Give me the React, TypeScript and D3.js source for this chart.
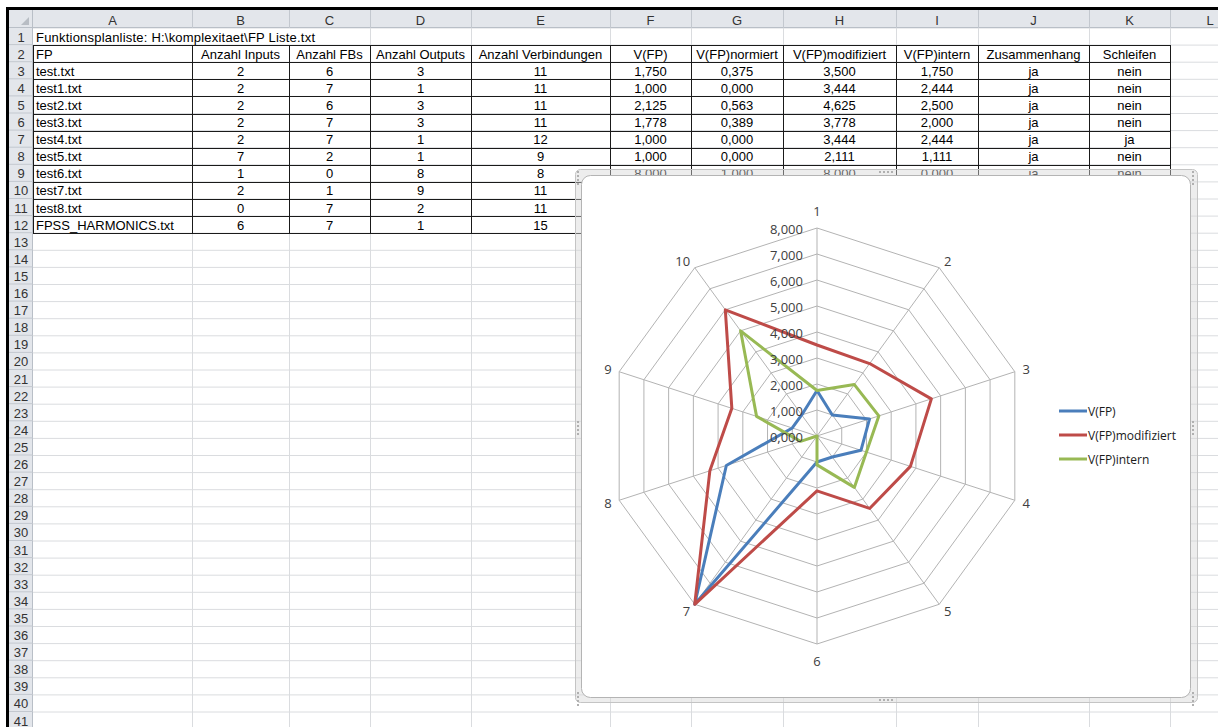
import React from 'react';
import * as d3 from 'd3';

// --- sheet data (rows 3..12) ---
const fileNames = ['test.txt', 'test1.txt', 'test2.txt', 'test3.txt', 'test4.txt', 'test5.txt', 'test6.txt', 'test7.txt', 'test8.txt', 'FPSS_HARMONICS.txt'];
const inputs = [2, 2, 2, 2, 2, 7, 1, 2, 0, 6];
const fbs = [6, 7, 6, 7, 7, 2, 0, 1, 7, 7];
const outputs = [3, 1, 3, 3, 1, 1, 8, 9, 2, 1];
const connections = [11, 11, 11, 11, 12, 9, 8, 11, 11, 15];
const vfp = [1.75, 1.0, 2.125, 1.778, 1.0, 1.0, 8.0, 3.667, 1.0, 1.0];
const vfpNorm = [0.375, 0.0, 0.563, 0.389, 0.0, 0.0, 1.0, 1.0, 0.0, 0.0];
const vfpMod = [3.5, 3.444, 4.625, 3.778, 3.444, 2.111, 8.0, 4.333, 3.444, 6.0];
const vfpIntern = [1.75, 2.444, 2.5, 2.0, 2.444, 1.111, 0.0, 0.667, 2.444, 5.0];
const zusammenhang = ['ja', 'ja', 'ja', 'ja', 'ja', 'ja', 'ja', 'ja', 'ja', 'ja'];
const schleifen = ['nein', 'nein', 'nein', 'nein', 'ja', 'nein', 'nein', 'nein', 'nein', 'nein'];

const headers = ['FP', 'Anzahl Inputs', 'Anzahl FBs', 'Anzahl Outputs', 'Anzahl Verbindungen', 'V(FP)', 'V(FP)normiert', 'V(FP)modifiziert', 'V(FP)intern', 'Zusammenhang', 'Schleifen'];
const title = 'Funktionsplanliste: H:\\komplexitaet\\FP Liste.txt';

// --- chart data ---
const categories = ['1', '2', '3', '4', '5', '6', '7', '8', '9', '10'];
const seriesNames = ['V(FP)', 'V(FP)modifiziert', 'V(FP)intern'];
const seriesValues = [vfp, vfpMod, vfpIntern];
const seriesColors = ['#4a7ebb', '#be4b48', '#98b954'];

// --- layout ---
const W = 1218, H = 727;
const colLetters = ['A', 'B', 'C', 'D', 'E', 'F', 'G', 'H', 'I', 'J', 'K', 'L'];
const colEdges = [33, 192, 289, 370, 471, 610, 691, 783, 896, 978, 1089, 1170, 1250];
const rowHeaderX = 9;
const headerTop = 10;
const rowTop0 = 28;
const rowH = 17.1;
const nRows = 41;

const de = d3.formatLocale({ decimal: ',', thousands: '.', grouping: [3], currency: ['', '€'] });
const f3 = de.format('.3f');

const sheetFont = "'Liberation Sans', Arial, sans-serif";
const chartFont = "'Open Sans', 'Noto Sans', sans-serif";

function Sheet() {
  const rowTop = (k: number) => rowTop0 + (k - 1) * rowH;
  const gridColor = '#dadcdf';
  const els: React.ReactNode[] = [];

  // horizontal gridlines
  for (let k = 1; k <= nRows + 1; k++) {
    els.push(<line key={'h' + k} x1={colEdges[0]} x2={W} y1={rowTop(k)} y2={rowTop(k)} stroke={gridColor} />);
  }
  // vertical gridlines (row 1 title overflows A..C)
  colEdges.slice(1).forEach((x, i) => {
    const y1 = i < 2 ? rowTop(2) : rowTop(1);
    els.push(<line key={'v' + i} x1={x + 0.5} x2={x + 0.5} y1={y1} y2={H} stroke={gridColor} />);
  });

  // headers
  els.push(<rect key="hdr" x={rowHeaderX} y={headerTop} width={W - rowHeaderX} height={rowTop0 - headerTop} fill="#e3e6eb" />);
  els.push(<rect key="rhdr" x={rowHeaderX} y={headerTop} width={colEdges[0] - rowHeaderX} height={H - headerTop} fill="#e3e6eb" />);
  els.push(<line key="hdrb" x1={rowHeaderX} x2={W} y1={rowTop0 - 0.5} y2={rowTop0 - 0.5} stroke="#b9bfc7" />);
  els.push(<line key="rhdrb" x1={colEdges[0] - 0.5} x2={colEdges[0] - 0.5} y1={headerTop} y2={H} stroke="#b9bfc7" />);
  els.push(<polygon key="corner" points="29,17 29,25 21,25" fill="#b8bdc4" />);
  colLetters.forEach((c, i) => {
    const x0 = colEdges[i], x1 = colEdges[i + 1];
    els.push(<line key={'hs' + i} x1={x1 + 0.5} x2={x1 + 0.5} y1={headerTop} y2={rowTop0} stroke="#c3c8cf" />);
    els.push(<text key={'hl' + i} x={(x0 + x1) / 2} y={(headerTop + rowTop0) / 2 + 1} textAnchor="middle" dominantBaseline="central" fontSize={13} fill="#333">{c}</text>);
  });
  for (let k = 1; k <= nRows; k++) {
    els.push(<line key={'rs' + k} x1={rowHeaderX} x2={colEdges[0]} y1={rowTop(k + 1) - 0.5} y2={rowTop(k + 1) - 0.5} stroke="#c3c8cf" />);
    els.push(<text key={'rl' + k} x={(rowHeaderX + colEdges[0]) / 2} y={rowTop(k) + rowH / 2 + 0.5} textAnchor="middle" dominantBaseline="central" fontSize={13} fill="#333">{k}</text>);
  }

  // title in row 1
  els.push(<text key="title" x={colEdges[0] + 3} y={rowTop(1) + rowH / 2 + 0.5} dominantBaseline="central" fontSize={13} textLength={279} lengthAdjust="spacing" fill="#000">{title}</text>);

  // table rows
  const rows: string[][] = [headers];
  fileNames.forEach((fn, i) => {
    rows.push([fn, String(inputs[i]), String(fbs[i]), String(outputs[i]), String(connections[i]), f3(vfp[i]), f3(vfpNorm[i]), f3(vfpMod[i]), f3(vfpIntern[i]), zusammenhang[i], schleifen[i]]);
  });
  rows.forEach((r, ri) => {
    const k = ri + 2;
    r.forEach((v, ci) => {
      const x0 = colEdges[ci], x1 = colEdges[ci + 1];
      const left = ci === 0;
      els.push(
        <text key={`c${k}-${ci}`} x={left ? x0 + 3 : (x0 + x1) / 2} y={rowTop(k) + rowH / 2 + 0.5} textAnchor={left ? 'start' : 'middle'} dominantBaseline="central" fontSize={13} fill="#000">{v}</text>
      );
    });
  });

  // table borders
  const tTop = rowTop(2), tBot = rowTop(13);
  for (let k = 2; k <= 13; k++) {
    els.push(<line key={'tb' + k} x1={colEdges[0]} x2={colEdges[11] + 1} y1={Math.round(rowTop(k)) + 0.5} y2={Math.round(rowTop(k)) + 0.5} stroke="#1a1a1a" />);
  }
  for (let c = 0; c <= 11; c++) {
    els.push(<line key={'tv' + c} x1={colEdges[c] + 0.5} x2={colEdges[c] + 0.5} y1={Math.round(tTop) + 0.5} y2={Math.round(tBot) + 0.5} stroke="#1a1a1a" />);
  }

  // window edge
  els.push(<rect key="edgeT" x={6} y={7} width={W} height={3} fill="#000" />);
  els.push(<rect key="edgeL" x={6} y={7} width={3} height={H} fill="#000" />);

  return <g fontFamily={sheetFont}>{els}</g>;
}

function Handle({ x, y, vertical }: { x: number; y: number; vertical?: boolean }) {
  const dots = d3.range(4).map((i) => (vertical ? [x, y + i * 4] : [x + i * 4, y]));
  return <g>{dots.map(([dx, dy], i) => <rect key={i} x={dx} y={dy} width={2} height={2} fill="#b0b0b0" />)}</g>;
}

function RadarChart() {
  const cx = 817, cy = 436, R = 208;
  const r = d3.scaleLinear().domain([0, 8]).range([0, R]);
  const ticks = r.ticks(8);
  const angle = d3.scaleLinear().domain([0, categories.length]).range([0, 2 * Math.PI]);
  const radial = d3.lineRadial<number>().angle((_, i) => angle(i)).radius((v) => r(v)).curve(d3.curveLinearClosed);

  const frame = { x: 575, y: 169, w: 622, h: 533 };
  const inner = { x: 581, y: 175, w: 609, h: 522 };

  const legendX = 1059, legendY = 411, legendStep = 24;

  return (
    <g fontFamily={chartFont}>
      <rect x={frame.x + 0.5} y={frame.y + 0.5} width={frame.w} height={frame.h} rx={5} fill="#d6d6d6" fillOpacity={0.45} stroke="#c4c4c4" />
      <rect x={inner.x + 0.5} y={inner.y + 0.5} width={inner.w} height={inner.h} rx={9} fill="#fff" stroke="#b4b4b4" />
      <Handle x={577} y={171} vertical />
      <Handle x={879} y={171} />
      <Handle x={879} y={699} />
      <Handle x={577} y={421} vertical />
      <Handle x={1192} y={421} vertical />
      <Handle x={1192} y={171} vertical />
      <Handle x={1192} y={692} vertical />
      <Handle x={577} y={692} vertical />

      <g transform={`translate(${cx},${cy})`}>
        {ticks.slice(1).map((t) => (
          <path key={t} d={radial(categories.map(() => t)) || ''} fill="none" stroke="#b3b3b3" strokeWidth={1} />
        ))}
        {categories.map((c, i) => {
          const a = angle(i);
          return <line key={c} x1={0} y1={0} x2={r(8) * Math.sin(a)} y2={-r(8) * Math.cos(a)} stroke="#b3b3b3" strokeWidth={1} />;
        })}
        {seriesValues.map((vals, si) => (
          <path key={si} d={radial(vals) || ''} fill="none" stroke={seriesColors[si]} strokeWidth={3} strokeLinejoin="round" />
        ))}
        {ticks.map((t) => (
          <text key={'t' + t} x={-14} y={-r(t) + 1} textAnchor="end" dominantBaseline="central" fontSize={13} fill="#404040">{f3(t)}</text>
        ))}
        {categories.map((c, i) => {
          const a = angle(i);
          const dx = Math.sin(a), dy = -Math.cos(a);
          const vx = r(8) * dx, vy = r(8) * dy;
          const halfW = c.length * 3.7;
          const gap = 8;
          let lx: number, ly: number;
          if (Math.abs(dx) < 0.01) {
            lx = vx;
            ly = vy + dy * (gap + 9);
          } else {
            lx = vx + dx * gap + Math.sign(dx) * halfW;
            ly = vy + dy * gap;
          }
          return <text key={'c' + c} x={lx} y={ly} textAnchor="middle" dominantBaseline="central" fontSize={13} fill="#404040">{c}</text>;
        })}
      </g>

      {seriesNames.map((n, i) => (
        <g key={n} transform={`translate(${legendX},${legendY + i * legendStep})`}>
          <line x1={0} x2={28} y1={0} y2={0} stroke={seriesColors[i]} strokeWidth={3} />
          <text x={29} y={0} dominantBaseline="central" fontSize={12} fill="#1a1a1a">{n}</text>
        </g>
      ))}
    </g>
  );
}

export default function App() {
  return (
    <svg width={W} height={H} style={{ position: 'fixed', left: 0, top: 0, background: '#fff' }}>
      <rect x={0} y={0} width={W} height={H} fill="#fff" />
      <Sheet />
      <RadarChart />
    </svg>
  );
}
